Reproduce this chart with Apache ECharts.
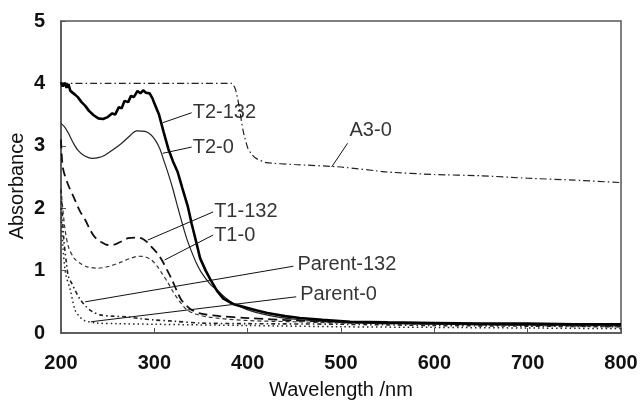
<!DOCTYPE html>
<html>
<head>
<meta charset="utf-8">
<script src="https://cdn.jsdelivr.net/npm/echarts@6/dist/echarts.min.js"></script>
<style>
html,body{margin:0;padding:0;background:#fff;}
#chart{width:640px;height:403px;}
</style>
</head>
<body>
<div id="chart"></div>
<script>
// ---- data (wavelength nm, absorbance) ----
var xTicks = [200, 300, 400, 500, 600, 700, 800];
var yTicks = [0, 1, 2, 3, 4, 5];

var a3_0_x = [200, 250, 300, 350, 383, 387, 391, 395, 400, 405, 410, 420, 450, 500, 550, 600, 650, 700, 750, 800];
var a3_0_y = [4.0, 4.0, 4.0, 4.0, 4.0, 3.9, 3.62, 3.25, 2.97, 2.85, 2.79, 2.73, 2.70, 2.66, 2.58, 2.54, 2.52, 2.48, 2.45, 2.41];

var t2_132_x = [200, 202, 204, 206, 208, 210, 212, 215, 218, 222, 226, 230, 235, 240, 245, 250, 255, 258, 262, 265, 268, 272, 275, 278, 282, 285, 288, 291, 295, 298, 300, 305, 310, 315, 320, 325, 330, 336, 340, 345, 349, 355, 360, 367, 374, 385, 395, 410, 421, 440, 456, 480, 510, 550, 600, 650, 700, 750, 800];
var t2_132_y = [4.02, 3.95, 4.01, 3.93, 3.99, 3.88, 3.9, 3.82, 3.78, 3.7, 3.64, 3.56, 3.49, 3.44, 3.43, 3.46, 3.52, 3.5, 3.62, 3.6, 3.72, 3.7, 3.8, 3.78, 3.88, 3.84, 3.89, 3.85, 3.84, 3.76, 3.68, 3.5, 3.22, 2.95, 2.75, 2.58, 2.32, 2.02, 1.75, 1.45, 1.2, 1.0, 0.86, 0.68, 0.55, 0.46, 0.42, 0.36, 0.32, 0.27, 0.24, 0.21, 0.18, 0.17, 0.16, 0.15, 0.15, 0.14, 0.14];

var t2_0_x = [200, 204, 208, 213, 218, 225, 233, 240, 247, 255, 265, 273, 281, 290, 296, 301, 306, 310, 315, 320, 325, 330, 335, 340, 345, 350, 360, 367, 375, 384, 400, 420, 450, 500, 550, 600, 700, 800];
var t2_0_y = [3.36, 3.3, 3.2, 3.05, 2.93, 2.84, 2.8, 2.81, 2.85, 2.93, 3.04, 3.15, 3.24, 3.23, 3.18, 3.09, 2.95, 2.77, 2.55, 2.3, 2.02, 1.75, 1.5, 1.3, 1.12, 0.98, 0.78, 0.69, 0.58, 0.48, 0.37, 0.29, 0.22, 0.17, 0.15, 0.14, 0.13, 0.12];

var t1_132_x = [200, 202, 207, 215, 220, 226, 231, 236, 243, 250, 258, 265, 272, 280, 286, 292, 297, 303, 308, 314, 319, 324, 329, 335, 340, 350, 370, 400, 450, 500, 600, 700, 800];
var t1_132_y = [3.1, 2.65, 2.4, 2.13, 1.96, 1.81, 1.66, 1.54, 1.46, 1.41, 1.42, 1.47, 1.52, 1.53, 1.52, 1.46, 1.38, 1.28, 1.17, 1.0, 0.85, 0.68, 0.53, 0.43, 0.37, 0.31, 0.27, 0.24, 0.2, 0.18, 0.15, 0.13, 0.12];

var t1_0_x = [200, 204, 208, 214, 220, 228, 240, 252, 265, 275, 283, 290, 297, 303, 308, 314, 319, 324, 329, 335, 345, 360, 400, 450, 500, 600, 700, 800];
var t1_0_y = [2.3, 1.7, 1.38, 1.2, 1.12, 1.06, 1.04, 1.07, 1.14, 1.2, 1.23, 1.22, 1.17, 1.07, 0.96, 0.82, 0.69, 0.57, 0.47, 0.37, 0.3, 0.25, 0.2, 0.18, 0.16, 0.14, 0.12, 0.1];

var p132_x = [200, 203, 206, 208, 212, 215, 220, 227, 234, 242, 255, 270, 285, 299, 320, 349, 400, 500, 600, 700, 800];
var p132_y = [2.3, 1.5, 1.1, 0.9, 0.78, 0.69, 0.55, 0.42, 0.34, 0.29, 0.27, 0.26, 0.23, 0.21, 0.19, 0.16, 0.15, 0.14, 0.12, 0.11, 0.1];

var p0_x = [200, 202, 205, 210, 215, 220, 225, 238, 260, 300, 400, 500, 600, 700, 800];
var p0_y = [2.0, 1.4, 0.95, 0.69, 0.37, 0.26, 0.2, 0.16, 0.15, 0.14, 0.12, 0.1, 0.09, 0.08, 0.07];

// annotation labels and their leader lines (data coordinates)
var labelNames = ['T2-132', 'T2-0', 'A3-0', 'T1-132', 'T1-0', 'Parent-132', 'Parent-0'];
var leaderFrom = [[309, 3.37], [309, 2.88], [490, 2.66], [293, 1.49], [311, 1.17], [226, 0.50], [232, 0.18]];
var leaderTo   = [[340, 3.53], [340, 2.98], [507, 3.04], [363, 1.94], [363, 1.57], [449, 1.07], [452, 0.58]];

function pairs(xs, ys) { return xs.map(function (x, i) { return [x, ys[i]]; }); }

var FONT = 'Liberation Sans, Arial, sans-serif';

function curve(name, xs, ys, style, smooth) {
  return {
    name: name, type: 'line', data: pairs(xs, ys), showSymbol: false, symbol: 'none',
    smooth: smooth, lineStyle: style, silent: true, z: 3
  };
}

var series = [
  curve('A3-0', a3_0_x, a3_0_y, {color: '#222', width: 1.2, type: [7, 3, 1.5, 3]}, 0.2),
  curve('Parent-0', p0_x, p0_y, {color: '#222', width: 1.5, type: [1.5, 3]}, 0.3),
  curve('Parent-132', p132_x, p132_y, {color: '#222', width: 1.6, type: [4, 3, 1.5, 3]}, 0.3),
  curve('T1-0', t1_0_x, t1_0_y, {color: '#333', width: 1.2, type: [4, 3]}, 0.3),
  curve('T1-132', t1_132_x, t1_132_y, {color: '#111', width: 1.8, type: [9, 5]}, 0.3),
  curve('T2-0', t2_0_x, t2_0_y, {color: '#222', width: 1.2, type: 'solid'}, 0.3),
  curve('T2-132', t2_132_x, t2_132_y, {color: '#000', width: 2.6, type: 'solid'}, false)
];

// leader lines
labelNames.forEach(function (n, i) {
  series.push({
    type: 'line', data: [leaderFrom[i], leaderTo[i]], showSymbol: false, symbol: 'none',
    lineStyle: {color: '#111', width: 1}, silent: true, z: 4
  });
});

// labels
series.push({
  type: 'scatter', symbolSize: 0, silent: true, z: 5,
  data: labelNames.map(function (n, i) {
    var item = {value: leaderTo[i], name: n};
    if (n === 'A3-0') {
      item.label = {position: 'right', distance: 2, offset: [0, -13]};
    } else if (n.indexOf('Parent') === 0) {
      item.label = {position: 'right', distance: 4, offset: [0, -2]};
    }
    return item;
  }),
  label: {
    show: true, position: 'right', distance: 1,
    formatter: function (p) { return p.name; },
    color: '#000', fontFamily: FONT, fontSize: 20
  }
});

var chart = echarts.init(document.getElementById('chart'), null, {renderer: 'canvas'});
chart.setOption({
  animation: false,
  backgroundColor: '#fff',
  grid: {left: 61, right: 19, top: 21, bottom: 70, containLabel: false, outerBoundsMode: 'none',
         show: true, borderColor: '#555', borderWidth: 1.5, backgroundColor: 'transparent'},
  xAxis: {
    type: 'value', min: xTicks[0], max: xTicks[xTicks.length - 1], interval: 100,
    name: 'Wavelength /nm', nameLocation: 'middle', nameGap: 47, nameMoveOverlap: false,
    nameTextStyle: {fontFamily: FONT, fontSize: 20, color: '#111'},
    axisLine: {lineStyle: {color: '#555', width: 1.5}},
    axisTick: {inside: true, length: 5, lineStyle: {color: '#555'}},
    axisLabel: {fontFamily: FONT, fontSize: 20, fontWeight: 'bold', color: '#111', margin: 20},
    splitLine: {show: false}
  },
  yAxis: {
    type: 'value', min: yTicks[0], max: yTicks[yTicks.length - 1], interval: 1,
    name: 'Absorbance', nameLocation: 'middle', nameGap: 34, nameMoveOverlap: false,
    nameTextStyle: {fontFamily: FONT, fontSize: 20, color: '#111', padding: [0, 18, 0, 0]},
    axisLine: {lineStyle: {color: '#555', width: 1.5}},
    axisTick: {inside: true, length: 5, lineStyle: {color: '#555'}},
    axisLabel: {fontFamily: FONT, fontSize: 20, fontWeight: 'bold', color: '#111', margin: 16},
    splitLine: {show: false}
  },
  series: series
});
</script>
</body>
</html>
